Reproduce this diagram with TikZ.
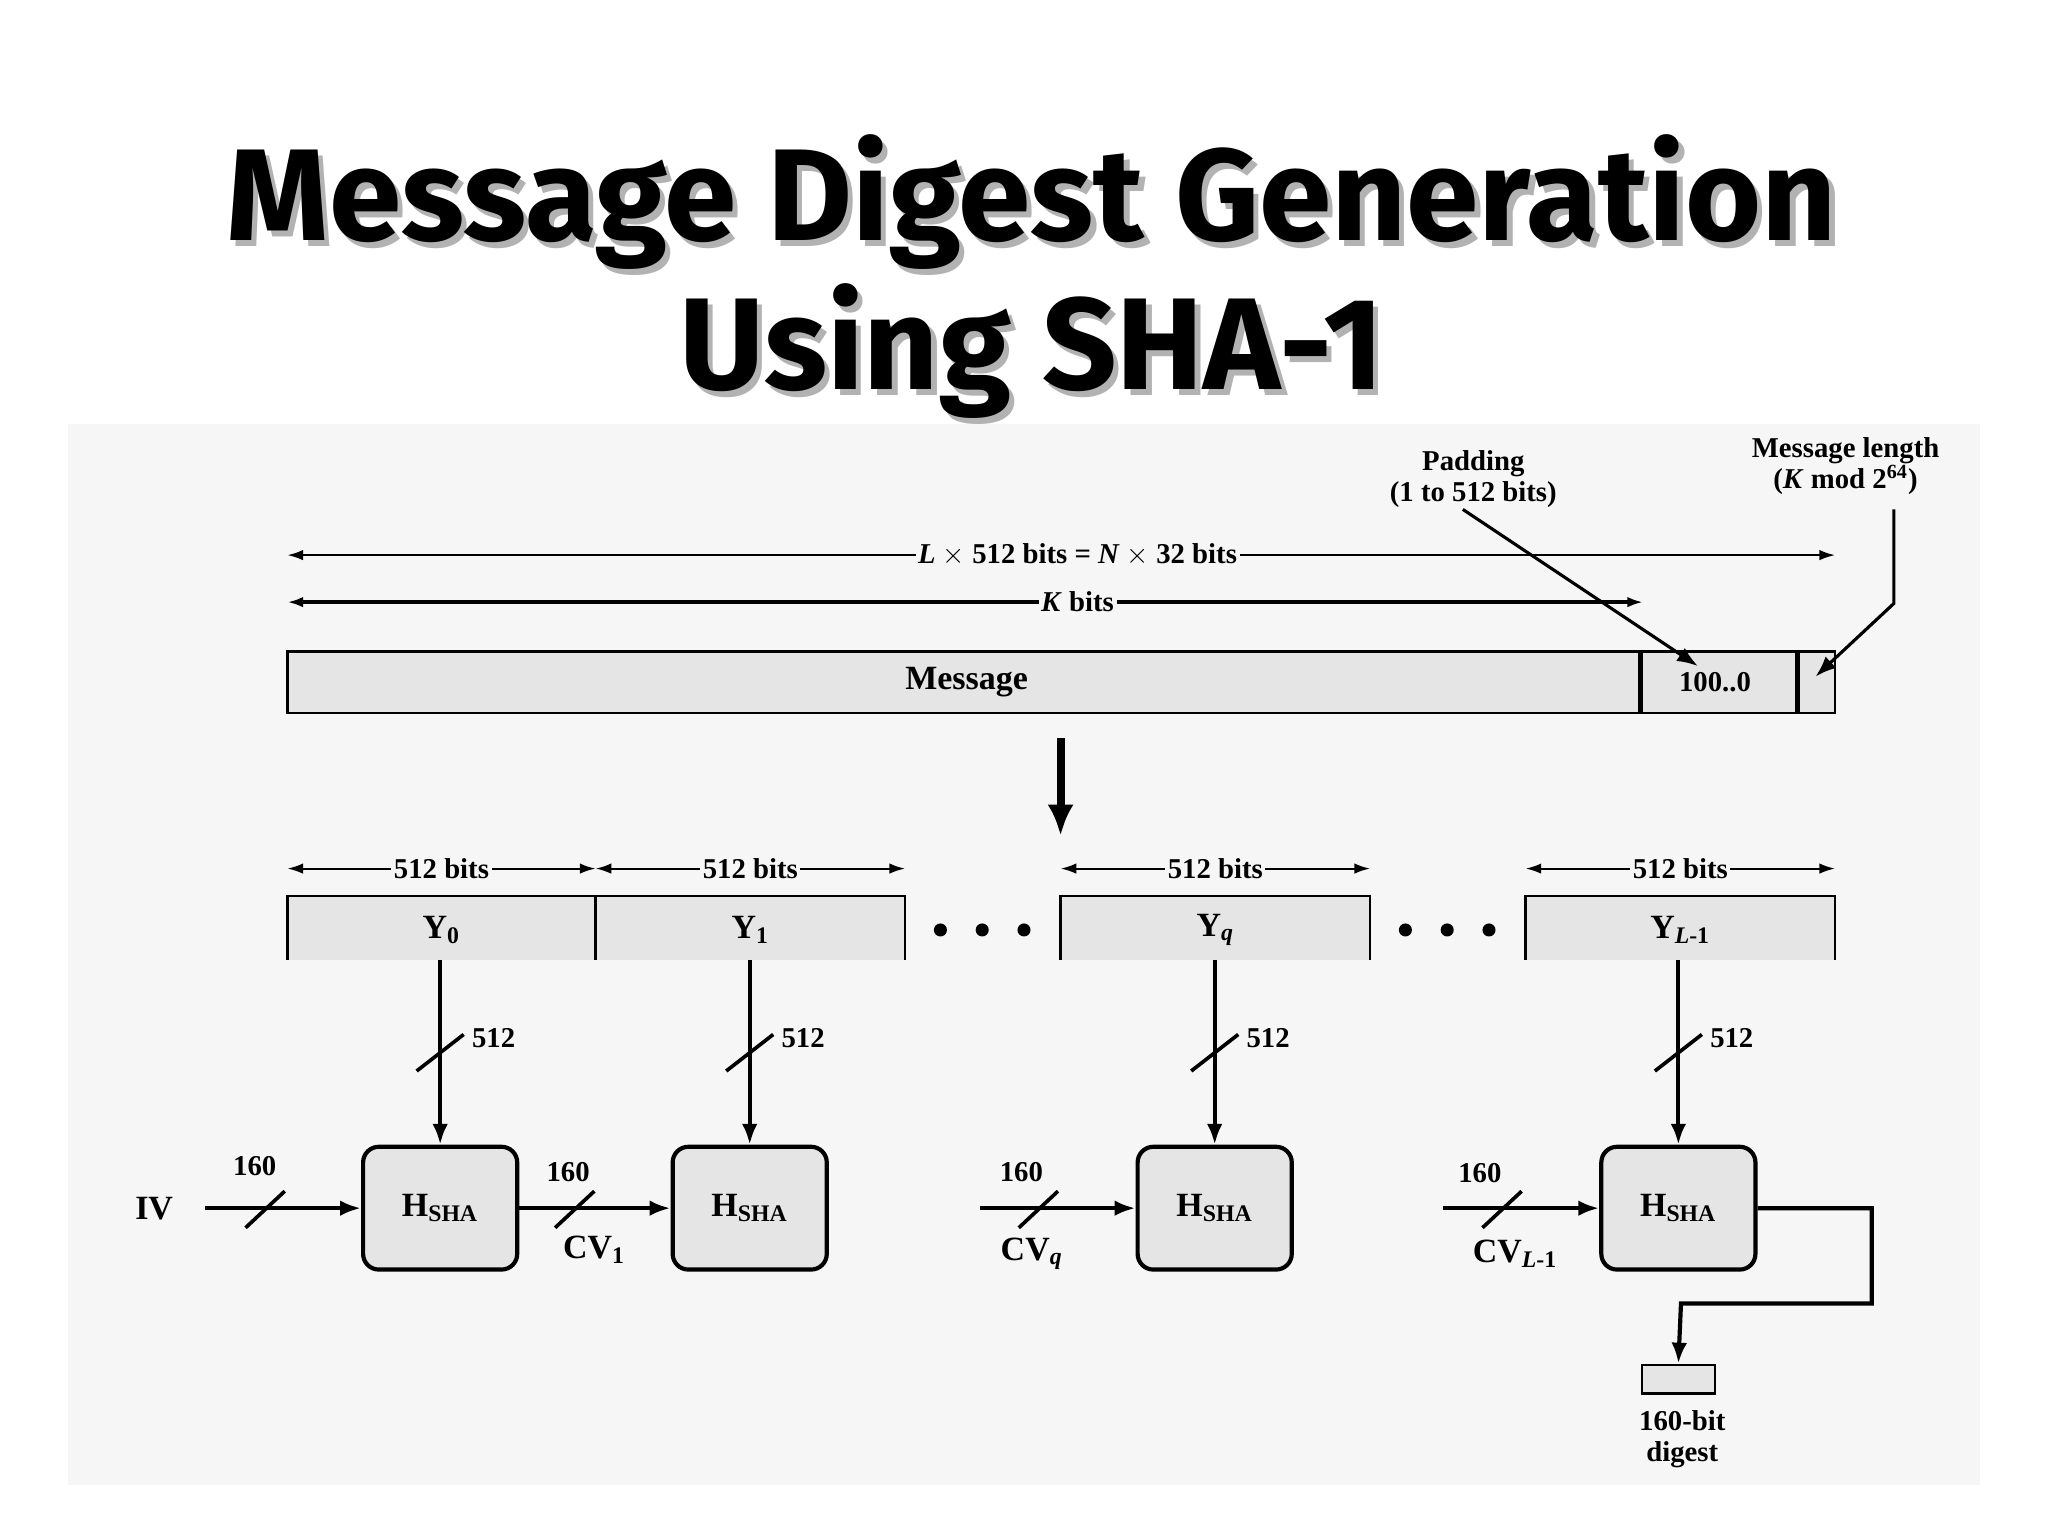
\documentclass[tikz,border=0pt]{standalone}
\usepackage{fontspec}
\setmainfont{Liberation Serif}
\newfontfamily\titlefont{Fira Sans}
\usetikzlibrary{arrows.meta}
\begin{document}
\begin{tikzpicture}[x=0.5pt,y=-0.5pt,
  lbl/.style={font=\fontsize{11}{12}\selectfont\bfseries,inner sep=1pt},
  dim/.style={{Latex[length=6pt,width=4pt]}-{Latex[length=6pt,width=4pt]},line width=0.8pt},
  arr/.style={-{Latex[length=8pt,width=6pt]},line width=1.6pt},
  hbox/.style={draw,line width=1.6pt,rounded corners=6pt,fill=gray!20,minimum width=59pt,minimum height=47pt,font=\fontsize{13}{14}\selectfont\bfseries},
  blk/.style={fill=gray!20}]
\useasboundingbox (0,0) rectangle (1568,1176);
\fill[white] (0,0) rectangle (1568,1176);
\fill[gray!7] (52,325) rectangle (1516,1137);
% title (with shadow)
\node[font=\titlefont\fontsize{50}{57}\selectfont\bfseries,text=gray!60,align=center] at (794,216) {Message Digest Generation\\Using SHA-1};
\node[font=\titlefont\fontsize{50}{57}\selectfont\bfseries,align=center] (title) at (790,212) {Message Digest Generation\\Using SHA-1};
% top dimension lines
\coordinate (l1) at (220,425); \coordinate (r1) at (1405,425);
\coordinate (l2) at (220,461); \coordinate (r2) at (1258,461);
\draw[dim] (l1) -- (r1);
\node[lbl,fill=gray!7] at (825,425) {\textit{L} $\times$ 512 bits = \textit{N} $\times$ 32 bits};
\draw[dim,line width=1.6pt] (l2) -- (r2);
\node[lbl,fill=gray!7] at (825,461) {\textit{K} bits};
% message bar
\draw[fill=gray!20,line width=1pt] (220,499) rectangle (1405,546);
\draw[line width=2pt] (1256,499) -- (1256,546) (1376,499) -- (1376,546);
\node[lbl,font=\fontsize{13}{14}\selectfont\bfseries] (msg) at (740,522) {Message};
\node[lbl] (pad) at (1313,522) {100..0};
\node[lbl,align=center] (padl) at (1128,367) {Padding\\(1 to 512 bits)};
\node[lbl,align=center] (mlen) at (1413,357) {Message length\\(\textit{K} mod 2\textsuperscript{64})};
\coordinate (pa) at (1120,390); \coordinate (pb) at (1300,510);
\draw[arr,line width=1.2pt] (pa) -- (pb);
\coordinate (ma) at (1450,390); \coordinate (mb) at (1450,462); \coordinate (mc) at (1390,518);
\draw[arr,line width=1.2pt] (ma) -- (mb) -- (mc);
% big arrow
\coordinate (ba) at (812,565); \coordinate (bb) at (812,640);
\draw[-{Latex[length=12pt,width=10pt]},line width=3pt] (ba) -- (bb);
% blocks
\foreach \a/\b/\n/\t in {220/456/y0/{Y\textsubscript{0}},456/693/y1/{Y\textsubscript{1}},812/1049/yq/{Y\textsubscript{\textit{q}}},1168/1405/yl/{Y\textsubscript{\textit{L}-1}}}{
  \fill[gray!20] (\a,686) rectangle (\b,735);
  \draw[line width=1pt] (\a,735) -- (\a,686) -- (\b,686) -- (\b,735);
  \node[lbl,font=\fontsize{13}{14}\selectfont\bfseries] (\n) at ({(\a+\b)/2},712) {\t};
  \coordinate (\n l) at (\a,665); \coordinate (\n r) at (\b,665);
  \draw[dim] (\n l) -- (\n r);
  \node[lbl,fill=gray!7] at ({(\a+\b)/2},665) {512 bits};
}
\foreach \x in {720,752,784,1076,1108,1140}{\fill (\x,712) circle (2.5pt);}
% H boxes
\node[hbox] (h0) at (337,925) {H\textsubscript{SHA}};
\node[hbox] (h1) at (574,925) {H\textsubscript{SHA}};
\node[hbox] (hq) at (930,925) {H\textsubscript{SHA}};
\node[hbox] (hl) at (1285,925) {H\textsubscript{SHA}};
\foreach \n/\h/\x in {y0/h0/337,y1/h1/574,yq/hq/930,yl/hl/1285}{
  \draw[arr] (\x,735) -- (\h.north);
  \draw[line width=1.4pt] (\x-18,820) -- (\x+18,792);
  \node[lbl,anchor=west] at (\x+22,795) {512};
}
% horizontal inputs
\node[lbl,font=\fontsize{13}{14}\selectfont\bfseries] (iv) at (118,925) {IV};
\coordinate (c0) at (157,925); \coordinate (cq) at (750,925); \coordinate (cl) at (1105,925);
\draw[arr] (c0) -- (h0.west);
\draw[arr] (h0.east) -- (h1.west);
\draw[arr] (cq) -- (hq.west);
\draw[arr] (cl) -- (hl.west);
\foreach \x in {203,440,795,1150}{\draw[line width=1.4pt] (\x-15,940) -- (\x+15,912);}
\node[lbl] at (195,893) {160};
\node[lbl] at (435,897) {160};
\node[lbl] at (782,897) {160};
\node[lbl] at (1133,898) {160};
\node[lbl,font=\fontsize{13}{14}\selectfont\bfseries] at (455,957) {CV\textsubscript{1}};
\node[lbl,font=\fontsize{13}{14}\selectfont\bfseries] at (790,960) {CV\textsubscript{\textit{q}}};
\node[lbl,font=\fontsize{13}{14}\selectfont\bfseries] at (1160,960) {CV\textsubscript{\textit{L}-1}};
% output
\node[draw,fill=gray!20,line width=1pt,minimum width=28pt,minimum height=11pt,inner sep=0pt] (dg) at (1285,1056) {};
\coordinate (o1) at (1433,925); \coordinate (o2) at (1433,998); \coordinate (o3) at (1287,998);
\draw[arr] (hl.east) -- (o1) -- (o2) -- (o3) -- (dg.north);
\node[lbl,align=center] at (1288,1102) {160-bit\\digest};
\end{tikzpicture}
\end{document}
